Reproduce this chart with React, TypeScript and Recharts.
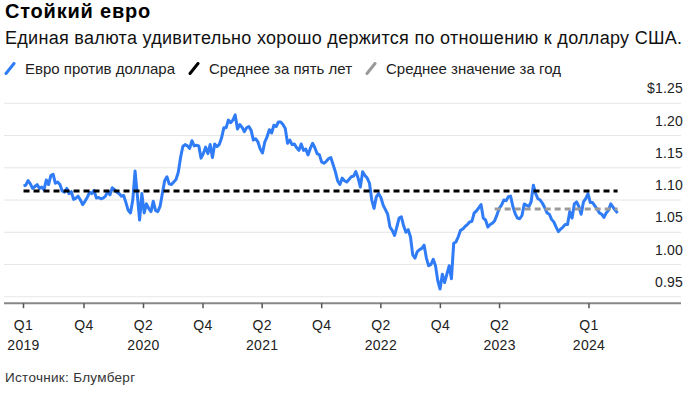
import React from "react";
import { LineChart, Line, XAxis, YAxis, CartesianGrid } from "recharts";

const title = "Стойкий евро";
const subtitle = "Единая валюта удивительно хорошо держится по отношению к доллару США.";
const legendLabels = ["Евро против доллара", "Среднее за пять лет", "Среднее значение за год"];
const legendColors = ["#2f7cf6", "#000000", "#9a9a9a"];
const sourceText = "Источник: Блумберг";

// weekly closes, first week = startDate
const startDate = "2019-03-29";
const eur2019 = [
  1.122, 1.123, 1.13, 1.125, 1.118, 1.121, 1.124, 1.118, 1.12, 1.116,
  1.131, 1.124, 1.138, 1.14, 1.126, 1.128, 1.124, 1.114, 1.112, 1.118,
  1.11, 1.113, 1.101, 1.103, 1.106, 1.1, 1.093, 1.098, 1.104, 1.112,
  1.11, 1.115, 1.103, 1.104, 1.102, 1.103, 1.106, 1.113, 1.108, 1.119,
];
const eur2020 = [
  1.116, 1.112, 1.11, 1.106, 1.107, 1.096, 1.084, 1.08, 1.1, 1.145,
  1.108, 1.069, 1.11, 1.08, 1.094, 1.087, 1.082, 1.098, 1.084, 1.082,
  1.09, 1.11, 1.13, 1.136, 1.125, 1.124, 1.128, 1.132, 1.143, 1.166,
  1.183, 1.186, 1.184, 1.18, 1.192, 1.184, 1.185, 1.184, 1.165, 1.172,
  1.182, 1.172, 1.186, 1.166, 1.187, 1.183, 1.186, 1.196, 1.212, 1.212,
  1.224, 1.22,
];
const eur2021 = [
  1.224, 1.232, 1.21, 1.217, 1.213, 1.206, 1.212, 1.214, 1.208, 1.193,
  1.195, 1.19, 1.179, 1.173, 1.19, 1.198, 1.209, 1.204, 1.216, 1.214,
  1.221, 1.221, 1.217, 1.211, 1.188, 1.193, 1.186, 1.187, 1.181, 1.177,
  1.187, 1.177, 1.179, 1.17, 1.18, 1.188, 1.181, 1.172, 1.17, 1.159,
  1.157, 1.16, 1.164, 1.166, 1.155, 1.144, 1.13, 1.124, 1.134, 1.13,
  1.128, 1.132, 1.136,
];
const eur2022 = [
  1.137, 1.144, 1.134, 1.12, 1.144, 1.138, 1.134, 1.126, 1.1, 1.087,
  1.105, 1.11, 1.104, 1.092, 1.085, 1.078, 1.058, 1.053, 1.045, 1.058,
  1.072, 1.074, 1.06, 1.05, 1.054, 1.043, 1.015, 1.01, 1.02, 1.023,
  1.025, 1.03, 1.01, 0.998, 1.0, 1.008, 0.998, 0.975, 0.962, 0.985,
  0.972, 0.985, 0.998, 0.978, 1.033, 1.035, 1.043, 1.053, 1.055, 1.059,
  1.062, 1.066,
];
const eur2023 = [
  1.067, 1.08, 1.083, 1.088, 1.093, 1.072, 1.069, 1.058, 1.062, 1.064,
  1.068, 1.077, 1.087, 1.092, 1.1, 1.099, 1.105, 1.106, 1.09, 1.079,
  1.072, 1.071, 1.076, 1.094, 1.092, 1.09, 1.097, 1.123, 1.11, 1.102,
  1.1, 1.095, 1.088, 1.08, 1.078, 1.07, 1.066, 1.058, 1.051, 1.055,
  1.058, 1.062, 1.062, 1.082, 1.072, 1.094, 1.097, 1.09, 1.078, 1.097,
  1.102, 1.11,
];
const eur2024 = [
  1.096, 1.096, 1.091, 1.086, 1.08, 1.078, 1.073, 1.08, 1.084, 1.094,
  1.089, 1.084, 1.08,
];
const eurUsd = [...eur2019, ...eur2020, ...eur2021, ...eur2022, ...eur2023, ...eur2024];

const fiveYearAverage = 1.114;
const oneYearAverage = 1.086;
const oneYearStartIndex = 207;

const yTicks = [0.95, 1.0, 1.05, 1.1, 1.15, 1.2, 1.25];
const yTickLabels = ["0.95", "1.00", "1.05", "1.10", "1.15", "1.20", "$1.25"];
const yDomain = [0.94, 1.25];

const xTickDates = [
  "2019-03-29", "2019-10-01", "2020-04-01", "2020-10-01", "2021-04-01",
  "2021-10-01", "2022-04-01", "2022-10-01", "2023-04-01", "2024-01-01",
];
const xTickQuarters = ["Q1", "Q4", "Q2", "Q4", "Q2", "Q4", "Q2", "Q4", "Q2", "Q1"];
const xTickYears = ["2019", "", "2020", "", "2021", "", "2022", "", "2023", "2024"];
const xDomainDates = ["2019-01-28", "2024-10-10"];

const DAY = 86400000;
const FONT = "'Liberation Sans', Arial, Helvetica, sans-serif";

const start = Date.parse(startDate);
const data = eurUsd.map((v, i) => ({
  t: start + i * 7 * DAY,
  eur: v,
  avg5: fiveYearAverage,
  avg1: i >= oneYearStartIndex ? oneYearAverage : null,
}));
const xTicks = xTickDates.map((d) => Date.parse(d));
const xDomain = xDomainDates.map((d) => Date.parse(d));

const XTick = (props: any) => {
  const { x, y, payload } = props;
  const idx = xTicks.indexOf(payload.value);
  return (
    <g>
      <text x={x} y={y + 21.5} textAnchor="middle" fontSize={14} letterSpacing={0.3} fill="#222" fontFamily={FONT}>
        {xTickQuarters[idx]}
      </text>
      <text x={x} y={y + 41.5} textAnchor="middle" fontSize={14} letterSpacing={0.3} fill="#222" fontFamily={FONT}>
        {xTickYears[idx]}
      </text>
    </g>
  );
};

const YTick = (props: any) => {
  const { y, payload, viewBox } = props;
  const idx = yTicks.findIndex((v) => Math.abs(v - payload.value) < 1e-9);
  const right = props.x;
  return (
    <text x={right + 2} y={y - 10} textAnchor="end" fontSize={14} letterSpacing={0.2} fill="#222" fontFamily={FONT}>
      {yTickLabels[idx]}
    </text>
  );
};

const LegendIcon = ({ color }: { color: string }) => (
  <svg width={12} height={13} style={{ display: "block" }}>
    <line x1={2} y1={11.5} x2={10} y2={1.5} stroke={color} strokeWidth={3} strokeLinecap="round" />
  </svg>
);

export default function App() {
  return (
    <div
      style={{
        position: "absolute",
        left: 0,
        top: 0,
        width: 696,
        height: 395,
        background: "#fff",
        fontFamily: FONT,
        overflow: "hidden",
      }}
    >
      <div style={{ position: "absolute", left: 5, top: 0, fontSize: 20, letterSpacing: 0.8, fontWeight: "bold", color: "#000", whiteSpace: "nowrap" }}>
        {title}
      </div>
      <div style={{ position: "absolute", left: 5, top: 28, fontSize: 18, letterSpacing: 0.3, color: "#111", whiteSpace: "nowrap" }}>
        {subtitle}
      </div>
      <div style={{ position: "absolute", left: 4, top: 60, display: "flex", alignItems: "center", fontSize: 15, color: "#222", whiteSpace: "nowrap" }}>
        {legendLabels.map((l, i) => (
          <div key={l} style={{ display: "flex", alignItems: "center", marginRight: 13 }}>
            <LegendIcon color={legendColors[i]} />
            <span style={{ marginLeft: 9 }}>{l}</span>
          </div>
        ))}
      </div>
      <div style={{ position: "absolute", left: 5, top: 370, fontSize: 13.5, letterSpacing: 0.3, color: "#333", whiteSpace: "nowrap" }}>
        {sourceText}
      </div>
      <div style={{ position: "absolute", left: 0, top: 0 }}>
        <LineChart width={696} height={395} data={data} margin={{ top: 103.3, right: 15, bottom: 31.8, left: 4 }}>
          <CartesianGrid horizontal={true} vertical={false} stroke="#e6e6e6" strokeWidth={1} />
          <XAxis
            dataKey="t"
            type="number"
            domain={xDomain}
            ticks={xTicks}
            interval={0}
            height={60}
            tick={<XTick />}
            tickSize={5}
            tickMargin={0}
            axisLine={{ stroke: "#888", strokeWidth: 2 }}
            tickLine={{ stroke: "#555", strokeWidth: 1.5 }}
            allowDataOverflow
          />
          <YAxis
            orientation="right"
            mirror={true}
            domain={yDomain}
            ticks={yTicks}
            interval={0}
            axisLine={false}
            tickLine={false}
            tickSize={0}
            tickMargin={0}
            tick={<YTick />}
            allowDataOverflow
          />
          <Line
            dataKey="eur"
            type="linear"
            stroke={legendColors[0]}
            strokeWidth={3}
            dot={false}
            activeDot={false}
            strokeLinejoin="round"
            isAnimationActive={false}
          />
          <Line
            dataKey="avg5"
            type="linear"
            stroke={legendColors[1]}
            strokeWidth={3}
            strokeDasharray="6 4"
            dot={false}
            activeDot={false}
            isAnimationActive={false}
          />
          <Line
            dataKey="avg1"
            type="linear"
            stroke={legendColors[2]}
            strokeWidth={3}
            strokeDasharray="6 4"
            dot={false}
            activeDot={false}
            connectNulls={false}
            isAnimationActive={false}
          />
        </LineChart>
      </div>
    </div>
  );
}
